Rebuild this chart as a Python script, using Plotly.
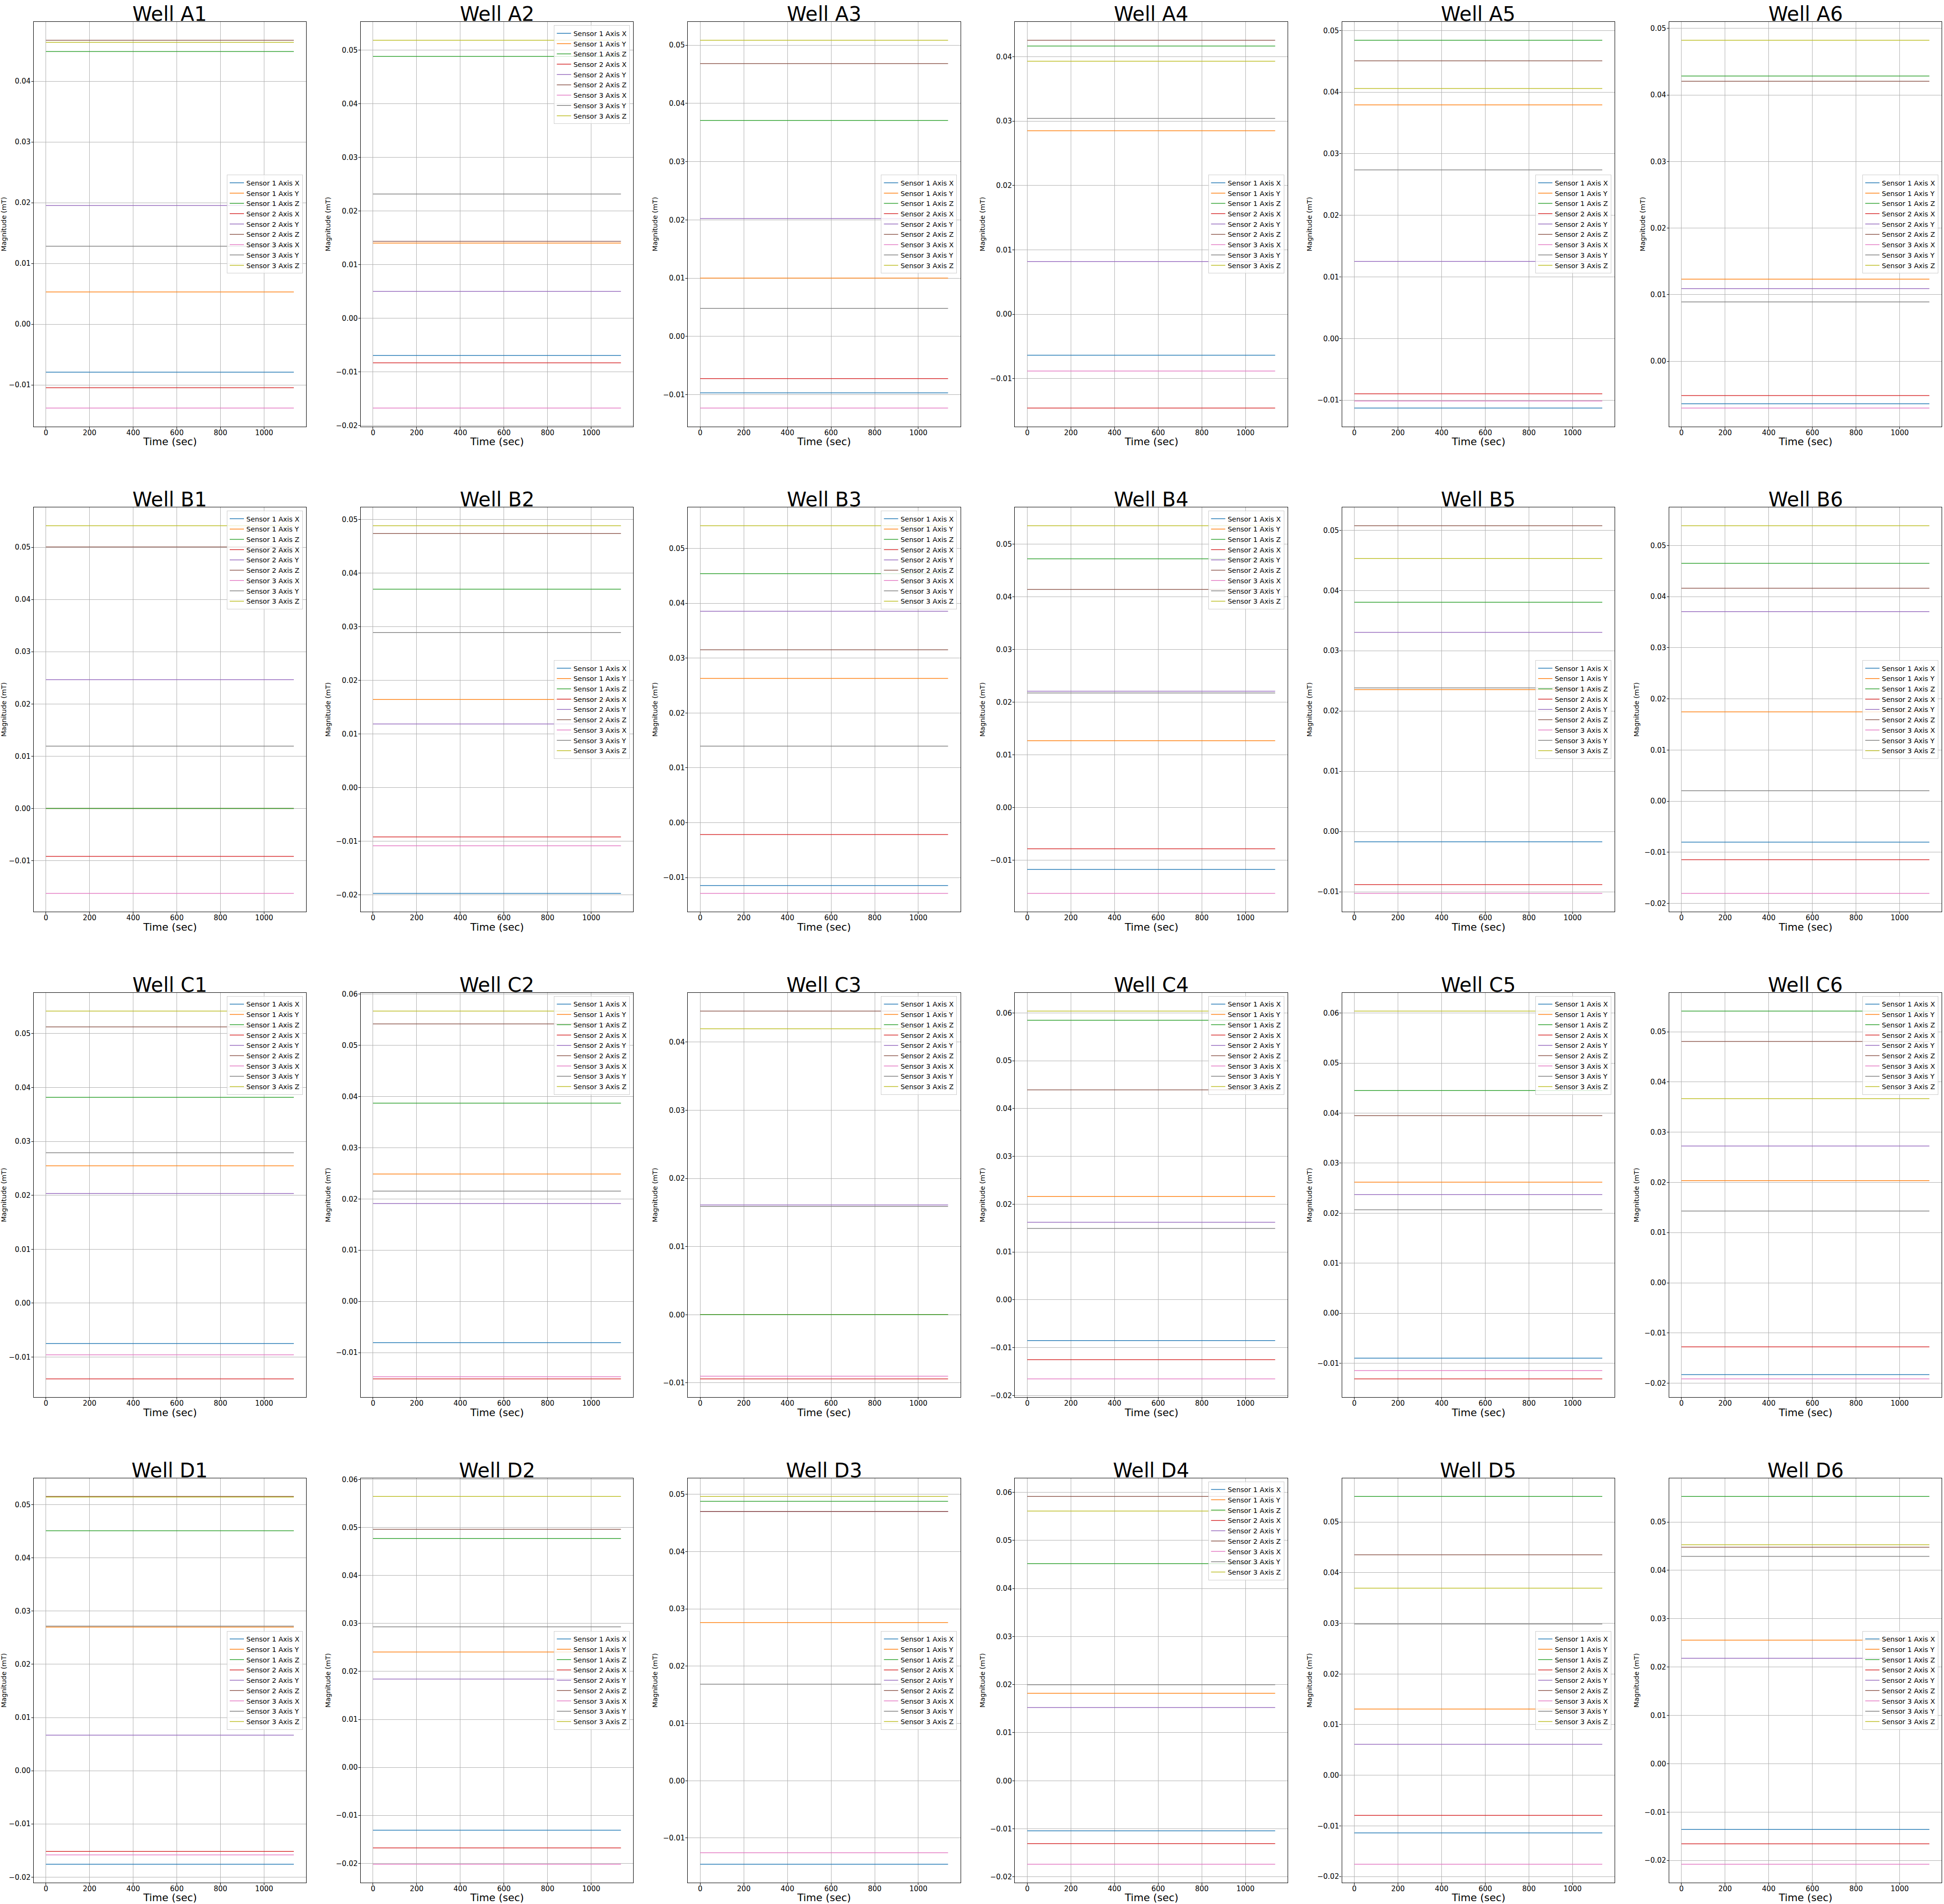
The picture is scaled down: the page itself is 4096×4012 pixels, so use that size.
import plotly.graph_objects as go

# ---------------- data ----------------
WELLS = ["A1", "A2", "A3", "A4", "A5", "A6",
         "B1", "B2", "B3", "B4", "B5", "B6",
         "C1", "C2", "C3", "C4", "C5", "C6",
         "D1", "D2", "D3", "D4", "D5", "D6"]

TIME_SEC = [0, 1136]

SERIES_NAMES = ["Sensor 1 Axis X", "Sensor 1 Axis Y", "Sensor 1 Axis Z",
                "Sensor 2 Axis X", "Sensor 2 Axis Y", "Sensor 2 Axis Z",
                "Sensor 3 Axis X", "Sensor 3 Axis Y", "Sensor 3 Axis Z"]

# magnitude (mT) per well, order of WELLS
S1_X = [-0.0079, -0.00696, -0.0097, -0.00637, -0.01129, -0.00639,
        0.0, -0.01971, -0.01146, -0.01176, -0.00171, -0.00802,
        -0.0075, -0.00807, 0.0, -0.00852, -0.00899, -0.01828,
        -0.01758, -0.0131, -0.01458, -0.01042, -0.01139, -0.01357]
S1_Y = [0.0053, 0.01399, 0.01001, 0.02849, 0.03792, 0.01232,
        0.0, 0.01648, 0.0263, 0.01269, 0.02354, 0.01746,
        0.02548, 0.02487, 0.0, 0.02161, 0.02618, 0.02034,
        0.027, 0.02405, 0.02762, 0.01819, 0.01307, 0.02557]
S1_Z = [0.0449, 0.04881, 0.03707, 0.04165, 0.04842, 0.04284,
        0.0, 0.03703, 0.0454, 0.04723, 0.03805, 0.0465,
        0.03816, 0.0387, 0.0, 0.05849, 0.04453, 0.05412,
        0.04509, 0.04772, 0.04878, 0.04517, 0.05504, 0.05528]
S2_X = [-0.01045, -0.00832, -0.00725, -0.01458, -0.00897, -0.00516,
        -0.00919, -0.00917, -0.00216, -0.00784, -0.00882, -0.01146,
        -0.01404, -0.01513, -0.00941, -0.01252, -0.01312, -0.01277,
        -0.01518, -0.01677, 0.04703, -0.01308, -0.00791, -0.01658]
S2_Y = [0.01955, 0.00498, 0.02023, 0.00816, 0.01252, 0.0109,
        0.02465, 0.01189, 0.03854, 0.02209, 0.03306, 0.03705,
        0.02035, 0.01911, 0.0161, 0.01621, 0.02369, 0.02724,
        0.00668, 0.01842, 0.04703, 0.01522, 0.00612, 0.0218]
S2_Z = [0.04675, 0.01433, 0.04682, 0.04255, 0.04507, 0.04206,
        0.05006, 0.0474, 0.03151, 0.04141, 0.05076, 0.04163,
        0.05124, 0.05418, 0.04456, 0.04393, 0.03949, 0.04806,
        0.05154, 0.04962, 0.04703, 0.05913, 0.04353, 0.04479]
S3_X = [-0.0138, -0.01676, -0.0123, -0.00882, -0.01016, -0.00703,
        -0.01628, -0.01082, -0.0129, -0.01632, -0.01028, -0.01805,
        -0.00958, -0.01472, -0.00901, -0.01653, -0.01148, -0.01913,
        -0.01581, -0.02019, -0.01257, -0.01737, -0.01757, -0.02079]
S3_Y = [0.01285, 0.02316, 0.0048, 0.03042, 0.02737, 0.0089,
        0.01192, 0.02894, 0.01395, 0.02174, 0.02384, 0.00202,
        0.0279, 0.02154, 0.01588, 0.01494, 0.02066, 0.01429,
        0.02717, 0.0293, 0.01686, 0.01996, 0.02986, 0.0429]
S3_Z = [0.0464, 0.05181, 0.05083, 0.03929, 0.04058, 0.04822,
        0.05413, 0.04887, 0.05415, 0.05352, 0.04531, 0.05386,
        0.05417, 0.05668, 0.04197, 0.0604, 0.06039, 0.03668,
        0.05143, 0.05646, 0.04963, 0.0561, 0.03693, 0.04529]

SERIES = [S1_X, S1_Y, S1_Z, S2_X, S2_Y, S2_Z, S3_X, S3_Y, S3_Z]

X_TICKS = [0, 200, 400, 600, 800, 1000]
X_TITLE = "Time (sec)"
Y_TITLE = "Magnitude (mT)"

# ---------------- style / layout ----------------
COLORS = ["#1f77b4", "#ff7f0e", "#2ca02c", "#d62728", "#9467bd",
          "#8c564b", "#e377c2", "#7f7f7f", "#bcbd22"]

LEGEND_LOC = ["center", "upper", "center", "center", "center", "center",
              "upper", "center", "upper", "upper", "center", "center",
              "upper", "upper", "upper", "upper", "upper", "upper",
              "center", "center", "center", "upper", "center", "center"]

W, H = 4096, 4012
REF_W, REF_H = 5685.0, 5568.0
COL_LEFT = [98 + 956.6 * c for c in range(6)]
AX_W = 797.5
ROW_TOP = [64 + 1419.5 * r for r in range(4)]
AX_H = 1183

FONT = "DejaVu Sans"
GRID = "#b0b0b0"

fig = go.Figure()
layout = dict(width=W, height=H, margin=dict(l=0, r=0, t=0, b=0),
              paper_bgcolor="white", plot_bgcolor="white",
              font=dict(family=FONT, color="black", size=14.4),
              annotations=[])

t_min, t_max = min(TIME_SEC), max(TIME_SEC)
t_pad = 0.05 * (t_max - t_min)

for k, well in enumerate(WELLS):
    r, c = divmod(k, 6)
    suf = "" if k == 0 else str(k + 1)
    x0 = COL_LEFT[c] / REF_W
    x1 = (COL_LEFT[c] + AX_W) / REF_W
    y1 = 1 - ROW_TOP[r] / REF_H
    y0 = 1 - (ROW_TOP[r] + AX_H) / REF_H

    vals = [s[k] for s in SERIES]
    lo, hi = min(vals), max(vals)
    pad = 0.05 * (hi - lo)

    for i, name in enumerate(SERIES_NAMES):
        fig.add_trace(go.Scatter(
            x=TIME_SEC, y=[SERIES[i][k]] * len(TIME_SEC), mode="lines",
            name=name, line=dict(color=COLORS[i], width=1.5),
            xaxis="x" + suf, yaxis="y" + suf, legend="legend" + suf,
            showlegend=True, hoverinfo="skip"))

    layout["xaxis" + suf] = dict(
        domain=[x0, x1], anchor="y" + suf, range=[t_min - t_pad, t_max + t_pad],
        tickvals=X_TICKS, ticks="outside", ticklen=4, tickwidth=1.15,
        tickcolor="black", showgrid=True, gridcolor=GRID, gridwidth=1.15,
        showline=True, linecolor="black", linewidth=1.15, mirror=True,
        zeroline=False, automargin=False, ticklabelstandoff=-5,
        tickfont=dict(family=FONT, size=15, color="black"))
    layout["yaxis" + suf] = dict(
        domain=[y0, y1], anchor="x" + suf, range=[lo - pad, hi + pad],
        tick0=0, dtick=0.01, tickformat=".2f", ticks="outside", ticklen=4,
        tickwidth=1.15, tickcolor="black", showgrid=True, gridcolor=GRID,
        gridwidth=1.15, showline=True, linecolor="black", linewidth=1.15,
        mirror=True, zeroline=False, automargin=False, ticklabelstandoff=-2,
        tickfont=dict(family=FONT, size=15, color="black"),
        title=dict(text=Y_TITLE, font=dict(family=FONT, size=14.4),
                   standoff=7))

    lx = x1 - 7.2 / W
    if LEGEND_LOC[k] == "upper":
        ly, lanchor = y1 - 7.2 / H, "top"
    else:
        ly, lanchor = (y0 + y1) / 2, "middle"
    layout["legend" + suf] = dict(
        x=lx, y=ly, xanchor="right", yanchor=lanchor, xref="paper",
        yref="paper", bgcolor="rgba(255,255,255,0.8)", bordercolor="#cccccc",
        borderwidth=1, font=dict(family=FONT, size=14.4, color="black"),
        traceorder="normal")

    layout["annotations"].append(dict(
        text="Well " + well, x=(x0 + x1) / 2, y=y1, xref="paper",
        yref="paper", xanchor="center", yanchor="bottom", showarrow=False,
        yshift=-9, borderpad=0, font=dict(family=FONT, size=42, color="black")))

    layout["annotations"].append(dict(
        text=X_TITLE, x=(x0 + x1) / 2, y=y0, xref="paper", yref="paper",
        xanchor="center", yanchor="middle", showarrow=False, yshift=-32,
        borderpad=0, font=dict(family=FONT, size=21.6, color="black")))

fig.update_layout(**layout)
fig.write_html("out.html")
